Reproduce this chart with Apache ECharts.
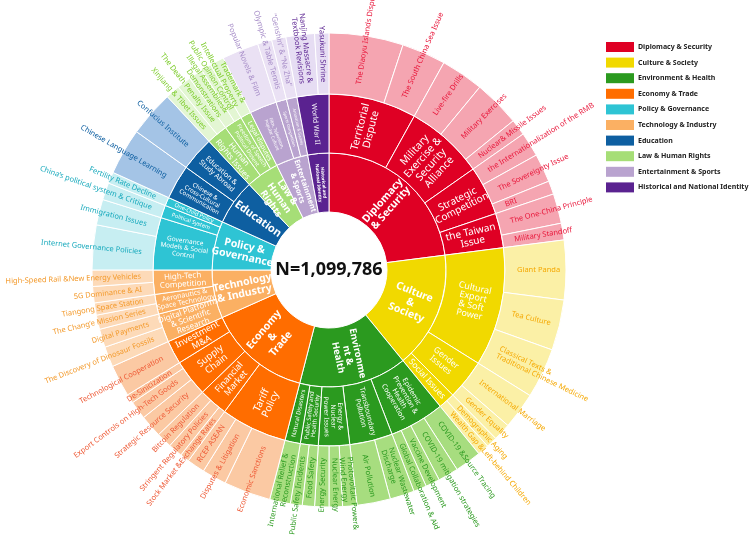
<!DOCTYPE html>
<html>
<head>
<meta charset="utf-8">
<title>Topic sunburst</title>
<script src="https://cdn.jsdelivr.net/npm/echarts@6/dist/echarts.min.js"></script>
<style>
  html, body { margin: 0; padding: 0; background: #fff; }
  #main { width: 750px; height: 536px; }
</style>
</head>
<body>
<div id="main"></div>
<script>
// ---- data ----
// inner ring, in drawing order (clockwise from 12 o'clock)
var topics = ['Diplomacy & Security', 'Culture & Society', 'Environment & Health', 'Economy & Trade',
  'Technology & Industry', 'Policy & Governance', 'Education', 'Law & Human Rights',
  'Entertainment & Sports', 'Historical and National Identity'];
var topicLabels = ['Diplomacy\n& Security', 'Culture\n&\nSociety', 'Environme\nnt &\nHealth', 'Economy\n&\nTrade',
  'Technology\n& Industry', 'Policy &\nGovernance', 'Education', 'Law &\nHuman\nRights',
  'Entertainment\n& Sports', 'Historical and\nNational Identity'];

// middle ring
var subtopics = ['Territorial\nDispute', 'Military\nExercise &\nSecurity\nAlliance', 'Strategic\nCompetition', 'the Taiwan\nIssue',
  'Cultural\nExport\n& Soft\nPower', 'Gender\nIssues', 'Social Issues',
  'Epidemic\nPrevention &\nHealth\nCooperation', 'Transboundary\nPollution', 'Energy &\nNuclear\nPower Issues', 'Public Safety and\nHealth Security', 'Natural Disasters',
  'Tariff\nPolicy', 'Financial\nMarket', 'Supply\nChain', 'Investment\nM&A',
  'Digital Platforms\n& Scientific\nResearch', 'Aeronautics &\nSpace Technology', 'High-Tech\nCompetition',
  'Governance\nModels & Social\nControl', 'Political System', 'One-Child Policy',
  'Chinese &\nCross-Cultural\nCommunication', 'Education &\nStudy Abroad',
  'Human\nRights Issues', 'Freedom of Speech\nPolitical Dissent', 'Legal disputes',
  'Film, Television,\nPopular Culture', 'Sports Competition', 'Animation & Games',
  'World War II'];
var subtopicParent = [0, 0, 0, 0, 1, 1, 1, 2, 2, 2, 2, 2, 3, 3, 3, 3, 4, 4, 4, 5, 5, 5, 6, 6, 7, 7, 7, 8, 8, 8, 9];

// outer ring
var issues = [
  'The Diaoyu Islands Dispute', 'The South China Sea Issue', 'Live-fire Drills', 'Military Exercises', 'Nuclear& Missile Issues',
  'the Internationalization of the RMB', 'The Sovereignty Issue', 'BRI', 'The One-China Principle', 'Military Standoff',
  'Giant Panda', 'Tea Culture', 'Classical Texts &\nTraditional Chinese Medicine', 'International Marriage', 'Gender Equality',
  'Demographic Aging', 'Wealth Gap &Left-behind Children',
  'COVID-19 &Source Tracing', 'COVID-19 mitigation strategies', 'Vaccine Development', 'Global Collaboration & Aid',
  'Nuclear Wastewater\nDischarge', 'Air Pollution', 'Photovoltaic Power&\nWind Energy', 'Nuclear Energy', 'Energy Security',
  'Food Safety', 'Public Safety Incidents', 'International Relief &\nReconstruction',
  'Economic Sanctions', 'Disputes & Litigation', 'RCEP ASEAN', 'Stock Market &Exchange Rates', 'Stringent Regulatory Policies',
  'Bitcoin Regulation', 'Strategic Resource Security', 'Export Controls on High-Tech Goods', 'De-Sinicization', 'Technological Cooperation',
  'The Discovery of Dinosaur Fossils', 'Digital Payments', 'The Chang\u2019e Mission Series', 'Tiangong Space Station', '5G Dominance & AI',
  'High-Speed Rail &New Energy Vehicles',
  'Internet Governance Policies', 'Immigration Issues', 'China\u2019s political system & Critique', 'Fertility Rate Decline',
  'Chinese Language Learning', 'Confucius Institute',
  'Xinjiang & Tibet Issues', 'The Death Penalty Issue', 'Illegal Assemblies&\nDemonstrations', 'Public Opinion Control',
  'Trademark &\nIntellectual Property',
  'Popular Novels & Film', 'Olympic & Table Tennis', '\u201cGenshin\u201d & \u201cNe Zha\u201d',
  'Nanjing Massacre &\nTextbook Revisions', 'Yasukuni Shrine'];
var issueParent = [0, 0, 1, 1, 1, 2, 2, 2, 3, 3,
  4, 4, 4, 5, 5, 6, 6,
  7, 7, 7, 7, 8, 8, 9, 9, 9, 10, 10, 11,
  12, 12, 12, 13, 13, 13, 14, 14, 14, 15,
  16, 16, 17, 17, 18, 18,
  19, 19, 20, 21,
  22, 23,
  24, 24, 25, 25, 26,
  27, 28, 29,
  30, 30];
var issueValues = [55600, 33000, 32080, 35130, 12220, 18330, 21390, 10080, 22300, 12530,
  44600, 37880, 37580, 27500, 13140, 8250, 8550,
  19860, 15280, 10690, 9780, 18330, 25050, 10690, 10080, 10690, 9170, 8860, 15580,
  35130, 18330, 13440, 7030, 10690, 11610, 16800, 13750, 6720, 23830,
  15280, 13750, 10690, 9170, 12220, 12220,
  33610, 19250, 12830, 8550,
  34830, 34520,
  10690, 10690, 10690, 7640, 10690,
  27500, 10690, 10690,
  21390, 10690];

var totalText = 'N=1,099,786';
var legendItems = ['Diplomacy & Security', 'Culture & Society', 'Environment & Health', 'Economy & Trade',
  'Policy & Governance', 'Technology & Industry', 'Education', 'Law & Human Rights',
  'Entertainment & Sports', 'Historical and National Identity'];

// ---- styles ----
var FONT = 'Noto Sans';
var topicColors = ['#df0024', '#f1d900', '#2b9a1f', '#ff6d00', '#fbb063', '#2ec4d4', '#0e5fa1', '#a6de77', '#b9a3cf', '#5a2290'];
var ringColors = ['#f5a5b1', '#fbf0a6', '#a7dd7f', '#fbc9a3', '#fddab8', '#c7eef2', '#a4c4e6', '#e3f6d3', '#eae1f4', '#e6ddf3'];
var textColors = ['#e8163a', '#f5a800', '#2b9a1f', '#ee5a36', '#f39a2c', '#17a9bc', '#0e5fa1', '#7dcc2c', '#a68cc7', '#5a2290'];
var topicFont = [10.5, 10.5, 9.5, 10.5, 10.5, 10.5, 11, 9.5, 7.5, 4.5];
var subFont = [10.5, 10.5, 10, 10, 9, 8.5, 8.5, 7, 7, 6.5, 6, 6, 10, 9, 9.5, 9, 8, 7, 8, 6.5, 5.5, 5.5,
  6, 7, 8, 5.5, 6.5, 4.5, 4, 4, 7];

var chart = echarts.init(document.getElementById('main'));

var data = topics.map(function (name, i) {
  return {
    name: name,
    itemStyle: { color: topicColors[i] },
    label: { formatter: topicLabels[i], fontSize: topicFont[i] },
    children: []
  };
});
var subNodes = subtopics.map(function (name, j) {
  var p = subtopicParent[j];
  var node = { name: name, itemStyle: { color: topicColors[p] }, label: { fontSize: subFont[j] }, children: [] };
  data[p].children.push(node);
  return node;
});
issues.forEach(function (name, k) {
  var p = subtopicParent[issueParent[k]];
  subNodes[issueParent[k]].children.push({
    name: name,
    value: issueValues[k],
    itemStyle: { color: ringColors[p] },
    label: { color: textColors[p] }
  });
});

// centre total and a hand-made legend
var legendColor = {};
topics.forEach(function (t, i) { legendColor[t] = topicColors[i]; });
var graphics = [{
  type: 'text',
  style: { text: totalText, x: 329, y: 270, align: 'center', verticalAlign: 'middle',
    font: 'bold 18px "' + FONT + '"', fill: '#111' }
}];
legendItems.forEach(function (name, i) {
  graphics.push({ type: 'rect', shape: { x: 606, y: 42 + i * 15.6, width: 28, height: 10 },
    style: { fill: legendColor[name] } });
  graphics.push({ type: 'text', style: { text: name, x: 638, y: 47 + i * 15.6, verticalAlign: 'middle',
    font: 'bold 7px "' + FONT + '"', fill: '#222' } });
});

chart.setOption({
  animation: false,
  graphic: graphics,
  series: [{
    type: 'sunburst',
    center: [329, 270],
    radius: [58, 237],
    sort: null,
    startAngle: 90,
    nodeClick: false,
    emphasis: { disabled: true },
    itemStyle: { borderColor: '#fff', borderWidth: 1 },
    label: { fontFamily: FONT },
    levels: [
      {},
      { r0: 58, r: 117, label: { rotate: 'radial', color: '#fff', fontWeight: 'bold' } },
      { r0: 117, r: 176, label: { rotate: 'radial', color: '#fff' } },
      { r0: 176, r: 237, label: { rotate: 'radial', align: 'left', distance: 12, fontSize: 7.5 } }
    ],
    data: data
  }]
});
</script>
</body>
</html>
